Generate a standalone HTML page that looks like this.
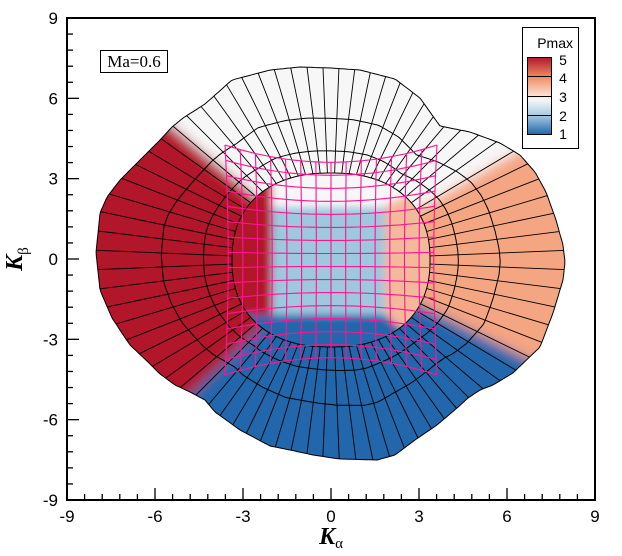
<!DOCTYPE html>
<html><head><meta charset="utf-8"><style>
html,body{margin:0;padding:0;background:#fff;width:622px;height:556px;overflow:hidden;}
svg{display:block;overflow:hidden;}
</style></head><body>
<svg id="s" width="622" height="556" viewBox="0 0 622 556" xmlns="http://www.w3.org/2000/svg">
<defs>
<filter id="b1" x="-10%" y="-10%" width="120%" height="120%"><feGaussianBlur stdDeviation="6"/></filter>
<filter id="b2" x="-10%" y="-10%" width="120%" height="120%"><feGaussianBlur stdDeviation="4"/></filter>
<clipPath id="cOut"><path id="outP"/></clipPath>
<clipPath id="cIn"><path id="inP"/></clipPath>
<linearGradient id="cb" x1="0" y1="0" x2="0" y2="1">
<stop offset="0" stop-color="#b2182b"/><stop offset="0.25" stop-color="#ef8a62"/>
<stop offset="0.5" stop-color="#fbe3d6"/><stop offset="0.55" stop-color="#f7f7f7"/>
<stop offset="0.75" stop-color="#a6cce2"/><stop offset="1" stop-color="#2166ac"/>
</linearGradient>
</defs>
<g id="fills"></g>
<g id="lines"></g>
<rect x="67" y="18" width="528" height="482" fill="none" stroke="#000" stroke-width="2"/>
<g id="ticks" stroke="#000" stroke-width="1.3"></g>
<g font-family="Liberation Sans, sans-serif" font-size="17" fill="#000" id="tl"></g>
<rect x="100.5" y="50.5" width="67" height="22" fill="#fff" stroke="#000" stroke-width="1"/>
<text x="134" y="67" font-family="Liberation Serif, serif" font-size="17" text-anchor="middle">Ma=0.6</text>
<rect x="522.5" y="27.5" width="56" height="121" fill="#fff" stroke="#000" stroke-width="1"/>
<text x="573" y="48" font-family="Liberation Sans, sans-serif" font-size="14" text-anchor="end">Pmax</text>
<rect x="527.5" y="57.5" width="24" height="77" fill="url(#cb)" stroke="#000" stroke-width="1"/>
<g stroke="#000" stroke-width="1"><line x1="527" y1="76.5" x2="551" y2="76.5"/><line x1="527" y1="96.5" x2="551" y2="96.5"/><line x1="527" y1="115.5" x2="551" y2="115.5"/></g>
<g font-family="Liberation Sans, sans-serif" font-size="14" text-anchor="middle">
<text x="563" y="65">5</text><text x="563" y="83">4</text><text x="563" y="102">3</text><text x="563" y="121">2</text><text x="563" y="139">1</text></g>
<text x="331" y="544" font-family="Liberation Serif, serif" font-size="24" font-weight="bold" font-style="italic" text-anchor="middle">K<tspan font-size="15" font-weight="normal" font-style="normal" dy="4">α</tspan></text>
<text transform="translate(22,259) rotate(-90)" font-family="Liberation Serif, serif" font-size="24" font-weight="bold" font-style="italic" text-anchor="middle">K<tspan font-size="15" font-weight="normal" font-style="normal" dy="6">β</tspan></text>
</svg>
<script>
var NS="http://www.w3.org/2000/svg";
function el(p,t,a){var e=document.createElementNS(NS,t);for(var k in a)e.setAttribute(k,a[k]);p.appendChild(e);return e;}
var cx=331,cy=260;
var outer=[[331,68],[360,70],[395,79],[420,98],[440,126],[470,132],[500,143],[520,155],[535,172],[546,192],[556,220],[563,245],[565,262],[563,280],[553,313],[540,347],[513,373],[493,385],[480,390],[468,398],[457,408],[437,425],[415,440],[395,455],[377,460],[340,459],[313,455],[290,450],[270,446],[240,430],[215,412],[205,400],[190,392],[175,385],[160,374],[148,362],[130,345],[112,318],[100,290],[96,253],[100,213],[107,197],[120,180],[140,160],[160,140],[172,127],[183,118],[205,104],[232,80],[270,70],[300,67]];
function rayOut(th){var dx=Math.cos(th),dy=Math.sin(th),best=1e9;
for(var i=0;i<outer.length;i++){var a=outer[i],b=outer[(i+1)%outer.length];
var ex=b[0]-a[0],ey=b[1]-a[1];var den=dx*ey-dy*ex;if(Math.abs(den)<1e-9)continue;
var ax=a[0]-cx,ay=a[1]-cy;var t=(ax*ey-ay*ex)/den;var u=(ax*dy-ay*dx)/den;
if(t>0&&u>=0&&u<=1&&t<best)best=t;}return best;}
function rIn(th){var c=Math.abs(Math.cos(th)),s=Math.abs(Math.sin(th)),n=2.3;
return 1/Math.pow(Math.pow(c/99,n)+Math.pow(s/87,n),1/n);}
function pt(th,t){var ri=rIn(th),ro=rayOut(th),r=ri+(ro-ri)*t;return [cx+r*Math.cos(th),cy+r*Math.sin(th)];}
function ring(t,N){var d="";for(var i=0;i<N;i++){var th=i/N*2*Math.PI;var p=pt(th,t);d+=(i?"L":"M")+p[0].toFixed(1)+","+p[1].toFixed(1);}return d+"Z";}
document.getElementById("outP").setAttribute("d",ring(1,360));
document.getElementById("inP").setAttribute("d",ring(0,360));
var F=document.getElementById("fills");
var g1=el(F,"g",{"clip-path":"url(#cOut)"});
var g1b=el(g1,"g",{filter:"url(#b1)"});
function far(dx,dy){return [cx+dx*1.8,cy+dy*1.8];}
var TL=far(-158,-133),TR=far(189,-110),BR=far(169,85),BL=far(-136,130);
function poly(g,pts,c){el(g,"polygon",{points:pts.map(function(p){return p[0].toFixed(1)+","+p[1].toFixed(1)}).join(" "),fill:c});}
poly(g1b,[[cx,cy],TL,[cx,0],TR],"#f7f7f7");
poly(g1b,[[cx,cy],TR,[620,cy],BR],"#f4a582");
poly(g1b,[[cx,cy],BR,[cx,550],BL],"#2166ac");
poly(g1b,[[cx,cy],BL,[0,cy],TL],"#b2182b");
var g2=el(F,"g",{"clip-path":"url(#cIn)"});
var g2b=el(g2,"g",{filter:"url(#b2)"});
el(g2b,"rect",{x:150,y:100,width:360,height:320,fill:"#9dc8de"});
poly(g2b,[[150,100],[510,100],[510,207],[150,207]],"#f7f7f7");
poly(g2b,[[150,150],[272,150],[272,208],[272,330],[150,400]],"#b2182b");
poly(g2b,[[385,205],[510,150],[510,420],[385,325]],"#f4b89a");
poly(g2b,[[150,315],[385,315],[420,345],[510,420],[150,420]],"#2166ac");
var L=document.getElementById("lines");
[0,0.21,0.52,1].forEach(function(t){el(L,"path",{d:ring(t,360),fill:"none",stroke:"#000","stroke-width":1});});
var N=76;
for(var i=0;i<N;i++){var th=(i+0.5)/N*2*Math.PI;var a=pt(th,0),b=pt(th,1);
el(L,"line",{x1:a[0].toFixed(1),y1:a[1].toFixed(1),x2:b[0].toFixed(1),y2:b[1].toFixed(1),stroke:"#000","stroke-width":0.9});}
function gp(u,v){var x=331+106*u*(1-0.03*(1-v*v));var y=260+115*v*(1-0.15*(1-u*u));return [x,y];}
var M=el(L,"g",{fill:"none",stroke:"#ff1493","stroke-width":1.1});
var NU=14,NV=15;
for(var i=0;i<=NU;i++){var u=-1+2*i/NU,d="";for(var j=0;j<=30;j++){var v=-1+2*j/30;var p=gp(u,v);d+=(j?"L":"M")+p[0].toFixed(1)+","+p[1].toFixed(1);}el(M,"path",{d:d});}
for(var j=0;j<=NV;j++){var v=-1+2*j/NV,d="";for(var i=0;i<=30;i++){var u=-1+2*i/30;var p=gp(u,v);d+=(i?"L":"M")+p[0].toFixed(1)+","+p[1].toFixed(1);}el(M,"path",{d:d});}
var T=document.getElementById("ticks"),TL2=document.getElementById("tl");
function X(v){return 67+(v+9)*528/18;}function Y(v){return 500-(v+9)*482/18;}
for(var k=0;k<=30;k++){var v=-9+k*0.6;var maj=(k%5==0);var len=maj?12:6;
el(T,"line",{x1:X(v),y1:500,x2:X(v),y2:500-len});
el(T,"line",{x1:67,y1:Y(v),x2:67+len,y2:Y(v)});}
for(var v=-9;v<=9;v+=3){var t=el(TL2,"text",{x:X(v),y:522,"text-anchor":"middle"});t.textContent=String(v);
var t2=el(TL2,"text",{x:58,y:Y(v)+6,"text-anchor":"end"});t2.textContent=String(v);}
</script>
</body></html>
